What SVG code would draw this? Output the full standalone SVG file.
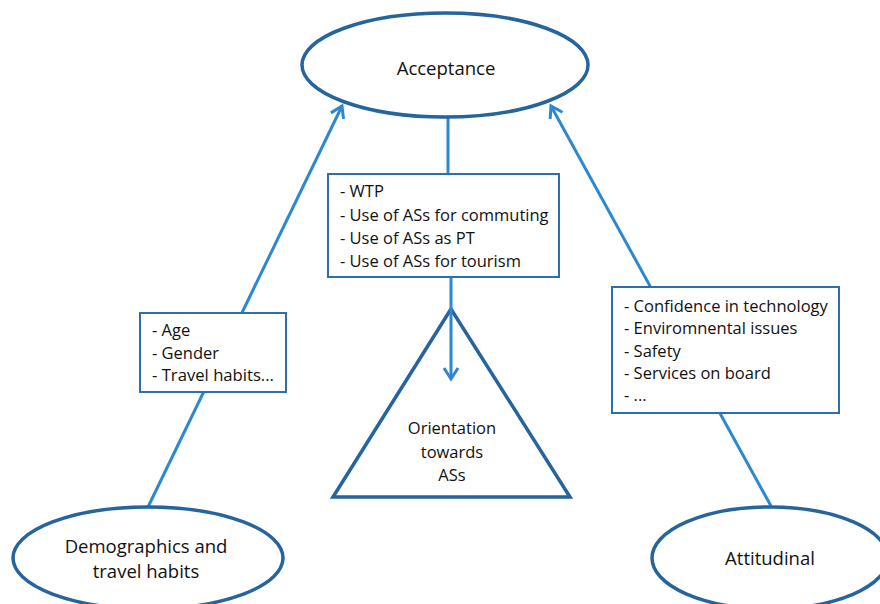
<svg xmlns="http://www.w3.org/2000/svg" width="880" height="604" viewBox="0 0 880 604">
<defs>
<style>
.shape{fill:#fff;stroke:#25649c;stroke-width:3.5}
.box{fill:#fff;stroke:#2c6fae;stroke-width:2}
.conn{fill:none;stroke:#2d88cf;stroke-width:3}
text{font-family:"Open Sans","Noto Sans","Liberation Sans",sans-serif;font-size:16.5px;fill:#111}
.c{text-anchor:middle}
.big{font-size:18.5px}
</style>
<marker id="arr" markerUnits="userSpaceOnUse" markerWidth="30" markerHeight="30" refX="0" refY="0" viewBox="-15 -15 30 30" orient="auto">
<path d="M-11,-7 L0,0 L-11,7" fill="none" stroke="#2d88cf" stroke-width="3" stroke-linejoin="miter"/>
</marker>
</defs>
<rect width="880" height="604" fill="#fff"/>
<g id="orientation">
<polygon class="shape" points="451,309 333,497 570,497"/>
<text class="c" x="452" y="434">Orientation</text>
<text class="c" x="452" y="458">towards</text>
<text class="c" x="452" y="481">ASs</text>
</g>
<g id="connectors">
<line class="conn" x1="148" y1="507" x2="342" y2="106" marker-end="url(#arr)"/>
<line class="conn" x1="771" y1="506" x2="551" y2="106" marker-end="url(#arr)"/>
<line class="conn" x1="448" y1="117" x2="448" y2="176"/>
<line class="conn" x1="451" y1="276" x2="451" y2="379" marker-end="url(#arr)"/>
</g>
<g id="acceptance">
<ellipse class="shape" cx="445" cy="65" rx="143" ry="52"/>
<text class="c big" x="446" y="75">Acceptance</text>
</g>
<g id="acceptance-factors">
<rect class="box" x="328" y="174" width="231" height="103"/>
<text x="340" y="197">- WTP</text>
<text x="340" y="221">- Use of ASs for commuting</text>
<text x="340" y="244">- Use of ASs as PT</text>
<text x="340" y="267">- Use of ASs for tourism</text>
</g>
<g id="demographic-factors">
<rect class="box" x="140" y="313" width="146" height="79"/>
<text x="152" y="336">- Age</text>
<text x="152" y="359">- Gender</text>
<text x="152" y="381" textLength="122" lengthAdjust="spacingAndGlyphs">- Travel habits...</text>
</g>
<g id="attitudinal-factors">
<rect class="box" x="612" y="287" width="227" height="126"/>
<text x="624" y="312">- Confidence in technology</text>
<text x="624" y="334">- Enviromnental issues</text>
<text x="624" y="357">- Safety</text>
<text x="624" y="379">- Services on board</text>
<text x="624" y="401">- ...</text>
</g>
<g id="demographics">
<ellipse class="shape" cx="148" cy="558" rx="135" ry="51"/>
<text class="c big" x="146" y="553">Demographics and</text>
<text class="c big" x="146" y="578">travel habits</text>
</g>
<g id="attitudinal">
<ellipse class="shape" cx="770" cy="558" rx="118" ry="51"/>
<text class="c big" x="770" y="565">Attitudinal</text>
</g>
</svg>
